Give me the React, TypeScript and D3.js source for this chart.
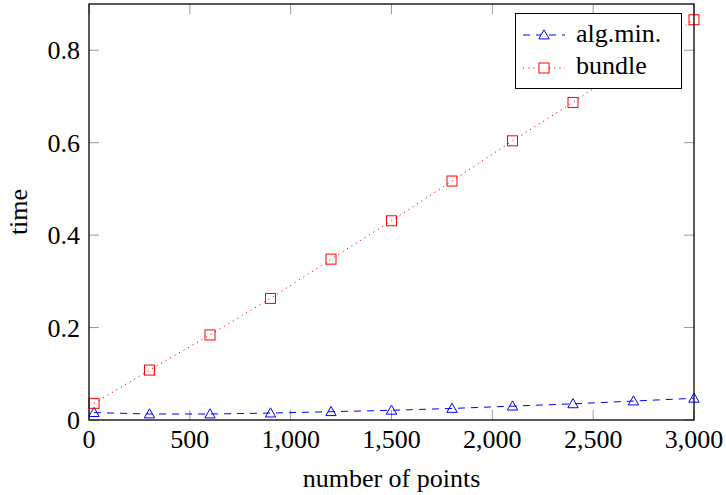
import React from "react";
import * as d3 from "d3";

const xValues = [25, 300, 600, 900, 1200, 1500, 1800, 2100, 2400, 2700, 3000];
const algMin = [0.016, 0.013, 0.013, 0.015, 0.018, 0.021, 0.025, 0.030, 0.035, 0.041, 0.047];
const bundle = [0.036, 0.108, 0.184, 0.263, 0.348, 0.431, 0.517, 0.604, 0.687, 0.775, 0.866];
const xTicks = [0, 500, 1000, 1500, 2000, 2500, 3000];
const yTicks = [0, 0.2, 0.4, 0.6, 0.8];
const seriesNames = ["alg.min.", "bundle"];

const W = 726, H = 495;
const L = 89, R = 694, T = 4, B = 420;
const FONT = "Liberation Serif, DejaVu Serif, Times New Roman, serif";
const FS = 26;

export default function App() {
  const x = d3.scaleLinear().domain([0, 3000]).range([L, R]);
  const y = d3.scaleLinear().domain([0, 0.9]).range([B, T]);
  const fmtX = d3.format(",");
  const fmtY = (v: number) => (v === 0 ? "0" : d3.format(".1f")(v));
  const line = d3.line<[number, number]>().x(d => x(d[0])).y(d => y(d[1]));
  const blueData = xValues.map((v, i) => [v, algMin[i]] as [number, number]);
  const redData = xValues.map((v, i) => [v, bundle[i]] as [number, number]);
  const tri = (cx: number, cy: number) => {
    const s = 5.2;
    return `M${cx},${cy - s} L${cx + s},${cy + s * 0.75} L${cx - s},${cy + s * 0.75} Z`;
  };
  const sq = 5;
  const tickLen = 10;
  const tickColor = "#9a9a9a";
  const ts = { fontFamily: FONT, fontSize: FS };

  return (
    <svg width={W} height={H} style={{ position: "absolute", left: 0, top: 0, background: "#fff" }}>
      <defs>
        <clipPath id="plotclip">
          <rect x={L - 8} y={T - 8} width={R - L + 16} height={B - T + 16} />
        </clipPath>
      </defs>
      {xTicks.map(t => (
        <g key={"xt" + t}>
          <line x1={x(t)} x2={x(t)} y1={B} y2={B - tickLen} stroke={tickColor} strokeWidth={1} />
          <line x1={x(t)} x2={x(t)} y1={T} y2={T + tickLen} stroke={tickColor} strokeWidth={1} />
          <text x={x(t)} y={448} textAnchor="middle" style={ts} fill="#000">{fmtX(t)}</text>
        </g>
      ))}
      {yTicks.map(t => (
        <g key={"yt" + t}>
          <line x1={L} x2={L + tickLen} y1={y(t)} y2={y(t)} stroke={tickColor} strokeWidth={1} />
          <line x1={R} x2={R - tickLen} y1={y(t)} y2={y(t)} stroke={tickColor} strokeWidth={1} />
          <text x={80} y={y(t)} dy="0.35em" textAnchor="end" style={ts} fill="#000">{fmtY(t)}</text>
        </g>
      ))}
      <g clipPath="url(#plotclip)">
        <path d={line(blueData) || ""} fill="none" stroke="#0000ff" strokeWidth={1} strokeDasharray="7,6" />
        <path d={line(redData) || ""} fill="none" stroke="#ff0000" strokeWidth={1} strokeDasharray="1.2,4" />
        {blueData.map((d, i) => (
          <path key={"b" + i} d={tri(x(d[0]), y(d[1]))} fill="none" stroke="#0000ff" strokeWidth={1} />
        ))}
        {redData.map((d, i) => (
          <rect key={"r" + i} x={x(d[0]) - sq} y={y(d[1]) - sq} width={2 * sq} height={2 * sq} fill="none" stroke="#ff0000" strokeWidth={1} />
        ))}
      </g>
      <rect x={L} y={T} width={R - L} height={B - T} fill="none" stroke="#000" strokeWidth={1.3} />
      <text x={(L + R) / 2} y={487} textAnchor="middle" style={ts} fill="#000">number of points</text>
      <text transform={`translate(27,${(T + B) / 2}) rotate(-90)`} textAnchor="middle" style={ts} fill="#000">time</text>
      <g>
        <rect x={515.5} y={13.5} width={166} height={75} fill="#fff" stroke="#000" strokeWidth={1} />
        <line x1={523} x2={565} y1={35} y2={35} stroke="#0000ff" strokeWidth={1} strokeDasharray="7,6" />
        <path d={tri(544, 35)} fill="#fff" stroke="#0000ff" strokeWidth={1} />
        <text x={576} y={42} style={ts} fill="#000">{seriesNames[0]}</text>
        <line x1={523} x2={565} y1={68} y2={68} stroke="#ff0000" strokeWidth={1} strokeDasharray="1.2,4" />
        <rect x={544 - sq} y={68 - sq} width={2 * sq} height={2 * sq} fill="#fff" stroke="#ff0000" strokeWidth={1} />
        <text x={576} y={74} style={ts} fill="#000">{seriesNames[1]}</text>
      </g>
    </svg>
  );
}
